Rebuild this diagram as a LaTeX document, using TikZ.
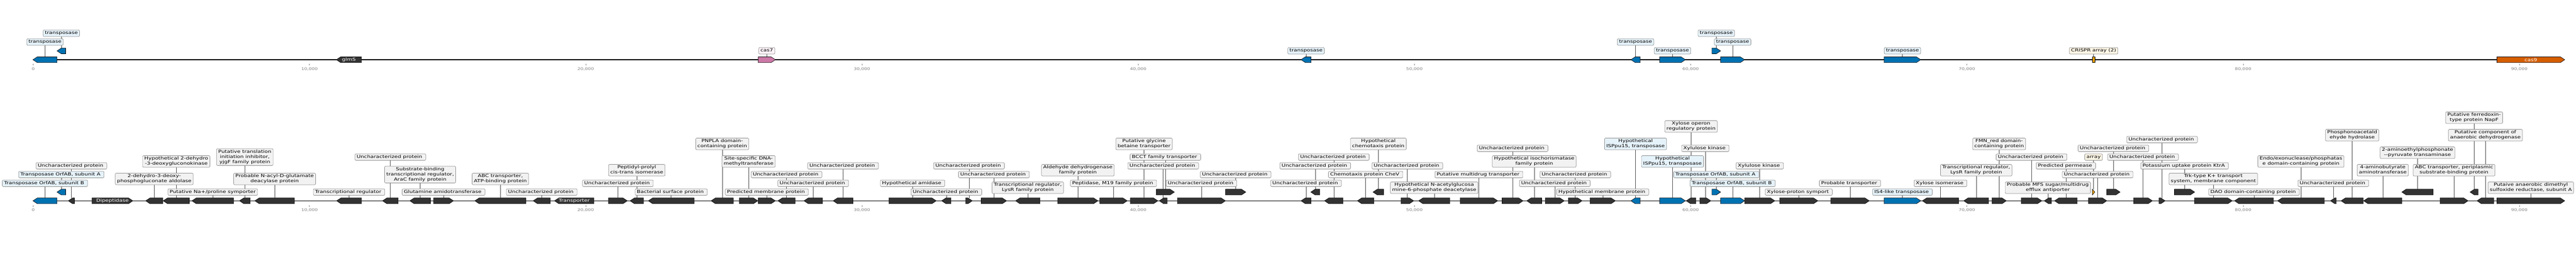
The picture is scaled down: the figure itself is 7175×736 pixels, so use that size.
\documentclass[tikz,border=0pt]{standalone}
\usepackage{fontspec}
\newfontfamily\lf{DejaVu Sans}[FakeStretch=1.27]
\pgfdeclarelayer{lines}
\pgfsetlayers{lines,main}
\definecolor{gblue}{HTML}{0072B2}
\definecolor{gdark}{HTML}{333333}
\definecolor{gpink}{HTML}{CC79A7}
\definecolor{gorange}{HTML}{E69F00}
\definecolor{gred}{HTML}{D55E00}
\definecolor{lgray}{HTML}{F2F2F2}
\definecolor{lblue}{HTML}{E5F2FA}
\definecolor{lpink}{HTML}{FAF1F6}
\definecolor{lorange}{HTML}{FDF5E5}
\definecolor{bgray}{HTML}{8C8C8C}
\definecolor{cgray}{HTML}{444444}
\definecolor{tgray}{HTML}{808080}
\newcommand\lstrut{\rule[-2.9pt]{0pt}{11.9pt}}
\newcommand\gene[6]{%
  \pgfmathsetmacro\gh{min(12,#3-#2)}%
  \pgfmathsetmacro\gc{(#2+#3)/2}%
  \coordinate (#1) at (\gc,#4-8);%
  \if#5R
    \filldraw[genestyle,fill=#6] (#2,#4-8) -- (#3-\gh,#4-8) -- (#3,#4) -- (#3-\gh,#4+8) -- (#2,#4+8) -- cycle;%
  \else\if#5L
    \filldraw[genestyle,fill=#6] (#3,#4-8) -- (#2+\gh,#4-8) -- (#2,#4) -- (#2+\gh,#4+8) -- (#3,#4+8) -- cycle;%
  \else
    \filldraw[genestyle,fill=#6] (#2,#4-8) rectangle (#3,#4+8);%
  \fi\fi
}
\newcommand\lab[5]{%
  \pgfmathsetmacro\ly{#2-24.4*#3}%
  \node[lbox,#4] (#1l) at (#1 |- 0,\ly) {\lstrut#5\lstrut};%
  \begin{pgfonlayer}{lines}\draw[conn] (#1) -- (#1 |- #1l.south);\end{pgfonlayer}%
}
\newcommand\inl[2]{%
  \node[inltext] (#1n) at ([yshift=-8pt]#1) {#2};%
}
\begin{document}
\begin{tikzpicture}[x=1pt,y=-1pt,
  genestyle/.style={draw=black,line width=0.9pt,line join=miter},
  lbox/.style={draw=bgray,line width=1pt,rounded corners=3pt,fill=lgray,inner xsep=4.8pt,inner ysep=3.1pt,align=center,font=\lf\fontsize{11.9}{14.2}\selectfont,text=black},
  inltext/.style={font=\lf\fontsize{11.9}{14.2}\selectfont,text=white,inner sep=0pt},
  conn/.style={draw=cgray,line width=0.8pt},
  track/.style={draw=black,line width=1.6pt},
  tickmark/.style={draw=tgray,line width=0.9pt},
  ticklab/.style={font=\lf\fontsize{10.3}{12}\selectfont,text=tgray,inner sep=0pt}]
\useasboundingbox (0,0) rectangle (7175,736);
% tracks
\coordinate (ts) at (91.8,166.5); \coordinate (te) at (7143.5,166.5);
\coordinate (bs) at (91.8,560); \coordinate (be) at (7143.5,560);
\begin{pgfonlayer}{lines}
\draw[track] (ts) -- (te);
\draw[track] (bs) -- (be);
\end{pgfonlayer}
% ticks
\foreach \k/\t in {0/0,1/{10,000},2/{20,000},3/{30,000},4/{40,000},5/{50,000},6/{60,000},7/{70,000},8/{80,000},9/{90,000}}{
  \pgfmathsetmacro\tx{92.6+769.4*\k}
  \coordinate (tta\k) at (\tx,178.5); \coordinate (ttb\k) at (\tx,182.5);
  \draw[tickmark] (tta\k) -- (ttb\k);
  \node[ticklab] (ttl\k) at (\tx,192) {\t};
  \coordinate (bta\k) at (\tx,572.5); \coordinate (btb\k) at (\tx,576.5);
  \draw[tickmark] (bta\k) -- (btb\k);
  \node[ticklab] (btl\k) at (\tx,586) {\t};
}
% ---------------- top track ----------------
\gene{t1}{91.8}{158.8}{166.5}{L}{gblue} \lab{t1}{166}{2}{fill=lblue}{transposase}
\gene{t2}{158.8}{182.9}{142}{L}{gblue} \lab{t2}{166}{3}{fill=lblue}{transposase}
\gene{t3}{936.8}{1006.8}{166.5}{L}{gdark} \inl{t3}{glmS}
\gene{t4}{2111.9}{2159.7}{166.5}{R}{gpink} \lab{t4}{166}{1}{fill=lpink}{cas7}
\gene{t5}{3623.7}{3651.7}{166.5}{L}{gblue} \lab{t5}{166}{1}{fill=lblue}{transposase}
\gene{t6}{4542.5}{4568.5}{166.5}{L}{gblue} \lab{t6}{166}{2}{fill=lblue}{transposase}
\gene{t7}{4622.5}{4694.4}{166.5}{R}{gblue} \lab{t7}{166}{1}{fill=lblue}{transposase}
\gene{t8}{4768.3}{4792.4}{142}{R}{gblue} \lab{t8}{166}{3}{fill=lblue}{transposase}
\gene{t9}{4792.4}{4859.3}{166.5}{R}{gblue} \lab{t9}{166}{2}{fill=lblue}{transposase}
\gene{t10}{5247.8}{5349.9}{166.5}{R}{gblue} \lab{t10}{166}{1}{fill=lblue}{transposase}
\gene{t11}{5827.9}{5834.7}{166.5}{B}{gorange} \lab{t11}{166}{1}{fill=lorange}{CRISPR array (2)}
\gene{t12}{6954.6}{7143.5}{166.5}{R}{gred} \inl{t12}{cas9}
% ---------------- bottom track ----------------
\gene{b1}{91.8}{158.8}{560}{L}{gblue} \lab{b1}{560}{2}{fill=lblue}{Transposase OrfAB, subunit B\ }
\gene{b2}{158.8}{182.9}{535.6}{L}{gblue} \lab{b2}{560}{3}{fill=lblue}{Transposase OrfAB, subunit A\ }
\gene{b3}{190.2}{207.4}{560}{L}{gdark} \lab{b3}{560}{4}{}{Uncharacterized protein\ }
\gene{b4}{256.4}{370.1}{560}{R}{gdark} \inl{b4}{Dipeptidase}
\gene{b5}{405.7}{453.5}{560}{L}{gdark} \lab{b5}{560}{2.5}{}{2-dehydro-3-deoxy-\\phosphogluconate aldolase}
\gene{b6}{454.6}{527.4}{560}{L}{gdark} \lab{b6}{560}{4.5}{}{Hypothetical 2-dehydro\\-3-deoxygluconokinase}
\gene{b7}{534.6}{650.5}{560}{L}{gdark} \lab{b7}{560}{1}{}{Putative Na+/proline symporter}
\gene{b8}{667}{696.8}{560}{L}{gdark} \lab{b8}{560}{5}{}{Putative translation\\initiation inhibitor,\\yjgF family protein}
\gene{b9}{709.8}{820}{560}{L}{gdark} \lab{b9}{560}{2.5}{}{Probable N-acyl-D-glutamate\\deacylase protein}
\gene{b10}{937.5}{1006.8}{560}{L}{gdark} \lab{b10}{560}{1}{}{Transcriptional regulator\ }
\gene{b11}{1065.4}{1109}{560}{L}{gdark} \lab{b11}{560}{5}{}{Uncharacterized protein\ }
\gene{b12}{1141.5}{1199}{560}{L}{gdark} \lab{b12}{560}{3}{}{Substrate-binding\\transcriptional regulator,\\AraC family protein}
\gene{b13}{1207.7}{1263.1}{560}{R}{gdark} \lab{b13}{560}{1}{}{Glutamine amidotransferase\ }
\gene{b14}{1322.5}{1464.8}{560}{L}{gdark} \lab{b14}{560}{2.5}{}{ABC transporter,\\ATP-binding protein}
\gene{b15}{1485.1}{1532.6}{560}{L}{gdark} \lab{b15}{560}{1}{}{Uncharacterized protein\ }
\gene{b16}{1544.4}{1654.3}{560}{L}{gdark} \inl{b16}{Transporter}
\gene{b17}{1694.5}{1747.3}{560}{R}{gdark} \lab{b17}{560}{2}{}{Uncharacterized protein\ }
\gene{b18}{1754.9}{1792.4}{560}{L}{gdark} \lab{b18}{560}{3.5}{}{Peptidyl-prolyl\\cis-trans isomerase}
\gene{b19}{1805.7}{1933.2}{560}{L}{gdark} \lab{b19}{560}{1}{}{Bacterial surface protein\ }
\gene{b20}{1980.6}{2042.6}{560}{L}{gdark} \lab{b20}{560}{6.5}{}{PNPLA domain-\\containing protein}
\gene{b21}{2059.1}{2110.7}{560}{R}{gdark} \lab{b21}{560}{4.5}{}{Site-specific DNA-\\methyltransferase}
\gene{b22}{2111.9}{2159.7}{560}{R}{gdark} \lab{b22}{560}{1}{}{Predicted membrane protein\ }
\gene{b23}{2166.6}{2214.8}{560}{L}{gdark} \lab{b23}{560}{3}{}{Uncharacterized protein\ }
\gene{b24}{2239.3}{2290.6}{560}{L}{gdark} \lab{b24}{560}{2}{}{Uncharacterized protein\ }
\gene{b25}{2320.5}{2375.6}{560}{L}{gdark} \lab{b25}{560}{4}{}{Uncharacterized protein\ }
\gene{b26}{2475.8}{2607.8}{560}{R}{gdark} \lab{b26}{560}{2}{}{Hypothetical amidase\ }
\gene{b27}{2622.7}{2648.8}{560}{L}{gdark} \lab{b27}{560}{1}{}{Uncharacterized protein\ }
\gene{b28}{2689.7}{2708.1}{560}{R}{gdark} \lab{b28}{560}{4}{}{Uncharacterized protein\ }
\gene{b29}{2733}{2803.7}{560}{R}{gdark} \lab{b29}{560}{3}{}{Uncharacterized protein\ }
\gene{b30}{2828.6}{2896.7}{560}{L}{gdark} \lab{b30}{560}{1.5}{}{Transcriptional regulator,\\LysR family protein}
\gene{b31}{2946.1}{3058.2}{560}{R}{gdark} \lab{b31}{560}{3.5}{}{Aldehyde dehydrogenase\\family protein}
\gene{b32}{3063.1}{3139.7}{560}{R}{gdark} \lab{b32}{560}{2}{}{Peptidase, M19 family protein\ }
\gene{b33}{3148.1}{3225}{560}{R}{gdark} \lab{b33}{560}{6.5}{}{Putative glycine\\betaine transporter}
\gene{b34}{3228.9}{3250.7}{560}{L}{gdark} \lab{b34}{560}{4}{}{Uncharacterized protein\ }
\gene{b35}{3220.8}{3271}{535.6}{R}{gdark} \lab{b35}{560}{5}{}{BCCT family transporter\ }
\gene{b36}{3279.4}{3413.3}{560}{R}{gdark} \lab{b36}{560}{2}{}{Uncharacterized protein\ }
\gene{b37}{3413.3}{3469.9}{535.6}{R}{gdark} \lab{b37}{560}{3}{}{Uncharacterized protein\ }
\gene{b38}{3623.7}{3651.7}{560}{L}{gdark} \lab{b38}{560}{2}{}{Uncharacterized protein\ }
\gene{b39}{3650.9}{3675.8}{535.6}{L}{gdark} \lab{b39}{560}{4}{}{Uncharacterized protein\ }
\gene{b40}{3689.2}{3740.8}{560}{L}{gdark} \lab{b40}{560}{5}{}{Uncharacterized protein\ }
\gene{b41}{3780.6}{3826.9}{560}{L}{gdark} \lab{b41}{560}{3}{}{Chemotaxis protein CheV\ }
\gene{b42}{3824.3}{3853.7}{535.6}{L}{gdark} \lab{b42}{560}{6.5}{}{Hypothetical\\chemotaxis protein}
\gene{b43}{3902.3}{3937.5}{560}{R}{gdark} \lab{b43}{560}{4}{}{Uncharacterized protein\ }
\gene{b44}{3951.3}{4038.2}{560}{L}{gdark} \lab{b44}{560}{1.5}{}{Hypothetical N-acetylglucosa\\mine-6-phosphate deacetylase}
\gene{b45}{4066.9}{4171.4}{560}{R}{gdark} \lab{b45}{560}{3}{}{Putative multidrug transporter\ }
\gene{b46}{4183.6}{4242.1}{560}{R}{gdark} \lab{b46}{560}{6}{}{Uncharacterized protein\ }
\gene{b47}{4252.4}{4294.1}{560}{L}{gdark} \lab{b47}{560}{4.5}{}{Hypothetical isochorismatase\\family protein}
\gene{b48}{4304.1}{4356.9}{560}{R}{gdark} \lab{b48}{560}{2}{}{Uncharacterized protein\ }
\gene{b49}{4368.4}{4406.7}{560}{R}{gdark} \lab{b49}{560}{3}{}{Uncharacterized protein\ }
\gene{b50}{4428.8}{4499.3}{560}{R}{gdark} \lab{b50}{560}{1}{}{Hypothetical membrane protein\ }
\gene{b51}{4542.5}{4568.5}{560}{L}{gblue} \lab{b51}{560}{6.5}{fill=lblue}{Hypothetical\\ISPpu15, transposase}
\gene{b52}{4622.5}{4694.4}{560}{R}{gblue} \lab{b52}{560}{4.5}{fill=lblue}{Hypothetical\\ISPpu15, transposase}
\gene{b53}{4696.7}{4723.5}{560}{L}{gdark} \lab{b53}{560}{8.5}{}{Xylose operon\\regulatory protein}
\gene{b54}{4734.6}{4765.2}{560}{R}{gdark} \lab{b54}{560}{6}{}{Xylulose kinase\ }
\gene{b55}{4768.3}{4792.4}{535.6}{R}{gblue} \lab{b55}{560}{3}{fill=lblue}{Transposase OrfAB, subunit A\ }
\gene{b56}{4792.4}{4859.3}{560}{R}{gblue} \lab{b56}{560}{2}{fill=lblue}{Transposase OrfAB, subunit B\ }
\gene{b57}{4859.3}{4943.5}{560}{R}{gdark} \lab{b57}{560}{4}{}{Xylulose kinase\ }
\gene{b58}{4956.9}{5063.3}{560}{R}{gdark} \lab{b58}{560}{1}{}{Xylose-proton symport\ }
\gene{b59}{5099.3}{5206.4}{560}{R}{gdark} \lab{b59}{560}{2}{}{Probable transporter\ }
\gene{b60}{5247.8}{5349.9}{560}{R}{gblue} \lab{b60}{560}{1}{fill=lblue}{IS4-like transposase\ }
\gene{b61}{5354.2}{5455.5}{560}{L}{gdark} \lab{b61}{560}{2}{}{Xylose isomerase\ }
\gene{b62}{5469.7}{5538.9}{560}{L}{gdark} \lab{b62}{560}{3.5}{}{Transcriptional regulator,\\LysR family protein}
\gene{b63}{5548.1}{5588.3}{560}{R}{gdark} \lab{b63}{560}{6.5}{}{FMN\_red domain-\\containing protein}
\gene{b64}{5629.6}{5687}{560}{R}{gdark} \lab{b64}{560}{5}{}{Uncharacterized protein\ }
\gene{b65}{5693.9}{5713.8}{560}{L}{gdark} \lab{b65}{560}{1.5}{}{Probable MFS sugar/multidrug\\efflux antiporter}
\gene{b66}{5722.6}{5785.4}{560}{L}{gdark} \lab{b66}{560}{4}{}{Predicted permease\ }
\gene{b67}{5827.9}{5834.7}{535.6}{R}{gorange} \lab{b67}{560}{5}{fill=lorange}{array}
\gene{b68}{5817.1}{5868}{560}{R}{gdark} \lab{b68}{560}{3}{}{Uncharacterized protein\ }
\gene{b69}{5867.6}{5905.2}{535.6}{R}{gdark} \lab{b69}{560}{6}{}{Uncharacterized protein\ }
\gene{b70}{5942.7}{5995.1}{560}{R}{gdark} \lab{b70}{560}{5}{}{Uncharacterized protein\ }
\gene{b71}{6013.4}{6030.6}{560}{R}{gdark} \lab{b71}{560}{7}{}{Uncharacterized protein\ }
\gene{b72}{6056.3}{6112.9}{535.6}{R}{gdark} \lab{b72}{560}{4}{}{Potassium uptake protein KtrA\ }
\gene{b73}{6112.1}{6217.4}{560}{R}{gdark} \lab{b73}{560}{2.5}{}{Trk-type K+ transport\\system, membrane component}
\gene{b74}{6223.9}{6332.2}{560}{L}{gdark} \lab{b74}{560}{1}{}{DAO domain-containing protein\ }
\gene{b75}{6343.7}{6473.8}{560}{L}{gdark} \lab{b75}{560}{4.5}{}{Endo/exonuclease/phosphatas\\e domain-containing protein}
\gene{b76}{6491}{6507.1}{560}{L}{gdark} \lab{b76}{560}{2}{}{Uncharacterized protein\ }
\gene{b77}{6520.5}{6582.5}{560}{L}{gdark} \lab{b77}{560}{7.5}{}{Phosphonoacetald\\ehyde hydrolase}
\gene{b78}{6583.6}{6689.8}{560}{L}{gdark} \lab{b78}{560}{3.5}{}{4-aminobutyrate\\aminotransferase}
\gene{b79}{6689.8}{6777.1}{535.6}{L}{gdark} \lab{b79}{560}{5.5}{}{2-aminoethylphosphonate\\-{}-pyruvate transaminase}
\gene{b80}{6796.2}{6874.3}{560}{R}{gdark} \lab{b80}{560}{3.5}{}{ABC transporter, periplasmic\\substrate-binding protein}
\gene{b81}{6879.8}{6902.5}{535.6}{L}{gdark} \lab{b81}{560}{9.5}{}{Putative ferredoxin-\\type protein NapF}
\gene{b82}{6899.2}{6945.8}{560}{L}{gdark} \lab{b82}{560}{7.5}{}{Putative component of\\anaerobic dehydrogenase}
\gene{b83}{6954.6}{7143.5}{560}{R}{gdark} \lab{b83}{560}{1.5}{}{Putaive anaerobic dimethyl\\sulfoxide reductase, subunit A}
\end{tikzpicture}
\end{document}
